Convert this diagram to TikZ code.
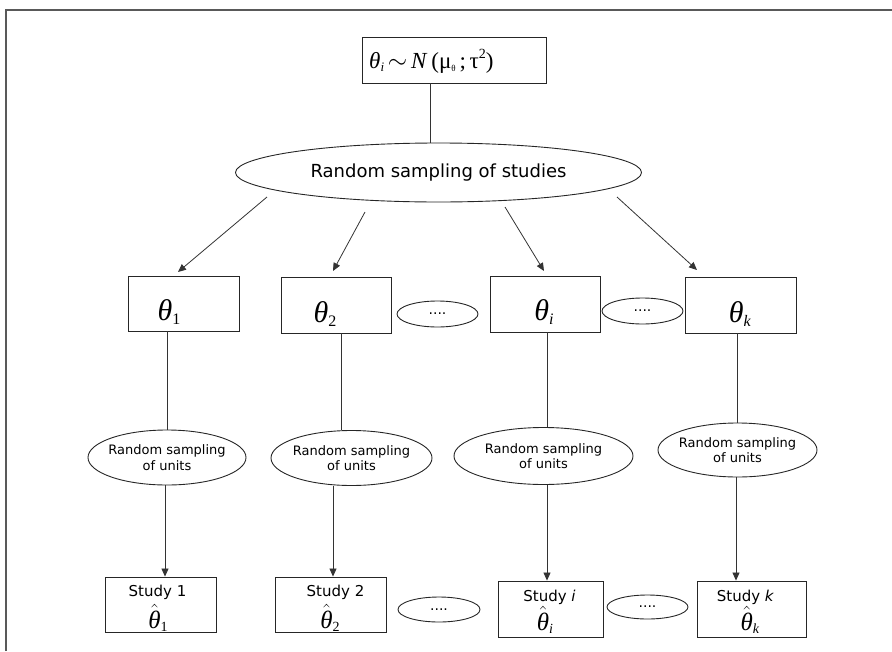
\documentclass[tikz,border=0pt]{standalone}
\usepackage{fontspec}
\usepackage{amsmath}
\setmainfont{Liberation Serif}
\newfontfamily\vfont{DejaVu Sans}
\usetikzlibrary{arrows.meta,shapes.geometric}
\newcommand{\lo}[2]{\raisebox{-0.14em}{\fontsize{#1}{#1}\selectfont #2}}
\newcommand{\hi}[2]{\raisebox{0.42em}{\fontsize{#1}{#1}\selectfont #2}}
\newcommand{\thbig}[1]{{\fontsize{30}{30}\selectfont\textit{θ}\lo{16}{#1}}}
\newcommand{\thhat}[1]{{\fontsize{25}{25}\selectfont$\hat{\text{\itshape θ}}$\lo{14}{#1}}}
\begin{document}
\begin{tikzpicture}[x=1pt,y=-1pt,
  box/.style={draw=black!85, line width=0.9pt, rectangle, inner sep=0pt},
  oval/.style={draw=black!85, line width=0.9pt, ellipse, inner sep=0pt},
  ln/.style={draw=black!80, line width=0.8pt},
  arr/.style={ln, -{Triangle[length=8pt,width=7pt]}},
  frame/.style={draw=black!65, line width=1.5pt},
  utext/.style={font={\vfont\fontsize{13}{15.5}\selectfont}, align=center, inner sep=0pt},
  stext/.style={font={\vfont\fontsize{15}{15}\selectfont}, inner sep=0pt, anchor=base},
  dotst/.style={font={\vfont\fontsize{14}{14}\selectfont}, inner sep=0pt},
  thl/.style={inner sep=0pt, anchor=base}
]
\useasboundingbox (0,0) rectangle (892,651);
\draw[frame] (6,651) -- (6,10) -- (892,10);

% top
\node[box, minimum width=184, minimum height=46] (top) at (454,60) {};
\node[inner sep=0pt, anchor=base west] (topl) at (369,68)
  {\fontsize{23}{23}\selectfont\textit{θ}\lo{13}{\textit{i}}\,$\sim$\,\textit{N}\,(μ\lo{9}{θ}\,;\,τ\hi{14}{2})};

\node[oval, minimum width=406, minimum height=59] (big) at (438.5,172.5) {};
\node[font={\vfont\fontsize{18}{18}\selectfont}, inner sep=0pt] (bigl) at (438.5,172.5) {Random sampling of studies};

% theta row
\node[box, minimum width=111, minimum height=55] (t1) at (183.5,303.5) {};
\node[box, minimum width=110, minimum height=56] (t2) at (336,305) {};
\node[box, minimum width=110, minimum height=56] (ti) at (545,304) {};
\node[box, minimum width=111, minimum height=56] (tk) at (740.5,305) {};
\node[thl] (t1l) at (169,320) {\thbig{1}};
\node[thl] (t2l) at (325,322) {\thbig{2}};
\node[thl] (til) at (544,320) {\thbig{\textit{i}}};
\node[thl] (tkl) at (740,322) {\thbig{\textit{k}}};
\node[oval, minimum width=81, minimum height=26] (d1) at (437.5,314) {};
\node[dotst] (d1l) at (d1) {....};
\node[oval, minimum width=81, minimum height=26] (d2) at (642.5,311) {};
\node[dotst] (d2l) at (d2) {....};

% sampling of units
\node[oval, minimum width=158, minimum height=55] (e1) at (167,457.5) {};
\node[utext] (e1l) at (e1) {Random sampling\\of units};
\node[oval, minimum width=161, minimum height=55] (e2) at (351.5,458) {};
\node[utext] (e2l) at (e2) {Random sampling\\of units};
\node[oval, minimum width=179, minimum height=57] (e3) at (543.5,456) {};
\node[utext] (e3l) at (e3) {Random sampling\\of units};
\node[oval, minimum width=159, minimum height=54] (e4) at (737.5,450) {};
\node[utext] (e4l) at (e4) {Random sampling\\of units};

% studies
\node[box, minimum width=111, minimum height=55] (s1) at (160.5,604.5) {};
\node[box, minimum width=111, minimum height=55] (s2) at (330.5,604.5) {};
\node[box, minimum width=105, minimum height=56] (si) at (550.5,609) {};
\node[box, minimum width=109, minimum height=56] (sk) at (751.5,609) {};
\node[stext] (s1a) at (157.5,596) {Study 1};
\node[stext] (s2a) at (335.5,596) {Study 2};
\node[stext] (sia) at (549.5,601) {Study \textit{i}};
\node[stext] (ska) at (745.5,601) {Study \textit{k}};
\node[thl] (s1b) at (158,628) {\thhat{1}};
\node[thl] (s2b) at (330,628) {\thhat{2}};
\node[thl] (sib) at (545,630) {\thhat{\textit{i}}};
\node[thl] (skb) at (750,630) {\thhat{\textit{k}}};
\node[oval, minimum width=82, minimum height=25] (d3) at (439,609.5) {};
\node[dotst] (d3l) at (d3) {....};
\node[oval, minimum width=81, minimum height=24] (d4) at (647.5,607) {};
\node[dotst] (d4l) at (d4) {....};

% connectors
\coordinate (c0) at (430,0);
\draw[ln] (top.south -| c0) -- (big.north -| c0);
\coordinate (a1s) at (267,197); \coordinate (a1e) at (178,272);
\coordinate (a2s) at (365,212); \coordinate (a2e) at (333,271);
\coordinate (a3s) at (505,207); \coordinate (a3e) at (544,271);
\coordinate (a4s) at (617,197); \coordinate (a4e) at (697,270);
\draw[arr] (a1s) -- (a1e);
\draw[arr] (a2s) -- (a2e);
\draw[arr] (a3s) -- (a3e);
\draw[arr] (a4s) -- (a4e);

\coordinate (c1) at (167,0); \coordinate (c2) at (341,0);
\coordinate (c3) at (547,0); \coordinate (c4) at (737,0);
\draw[ln] (t1.south -| c1) -- (e1.north -| c1);
\draw[ln] (t2.south -| c2) -- (e2.north -| c2);
\draw[ln] (ti.south -| c3) -- (e3.north -| c3);
\draw[ln] (tk.south -| c4) -- (e4.north -| c4);

\coordinate (b1) at (165,0); \coordinate (b2) at (333,0);
\coordinate (b3) at (547,0); \coordinate (b4) at (736,0);
\draw[arr] (e1.south -| b1) -- (s1.north -| b1);
\draw[arr] (e2.south -| b2) -- (s2.north -| b2);
\draw[arr] (e3.south -| b3) -- (si.north -| b3);
\draw[arr] (e4.south -| b4) -- (sk.north -| b4);
\end{tikzpicture}
\end{document}
